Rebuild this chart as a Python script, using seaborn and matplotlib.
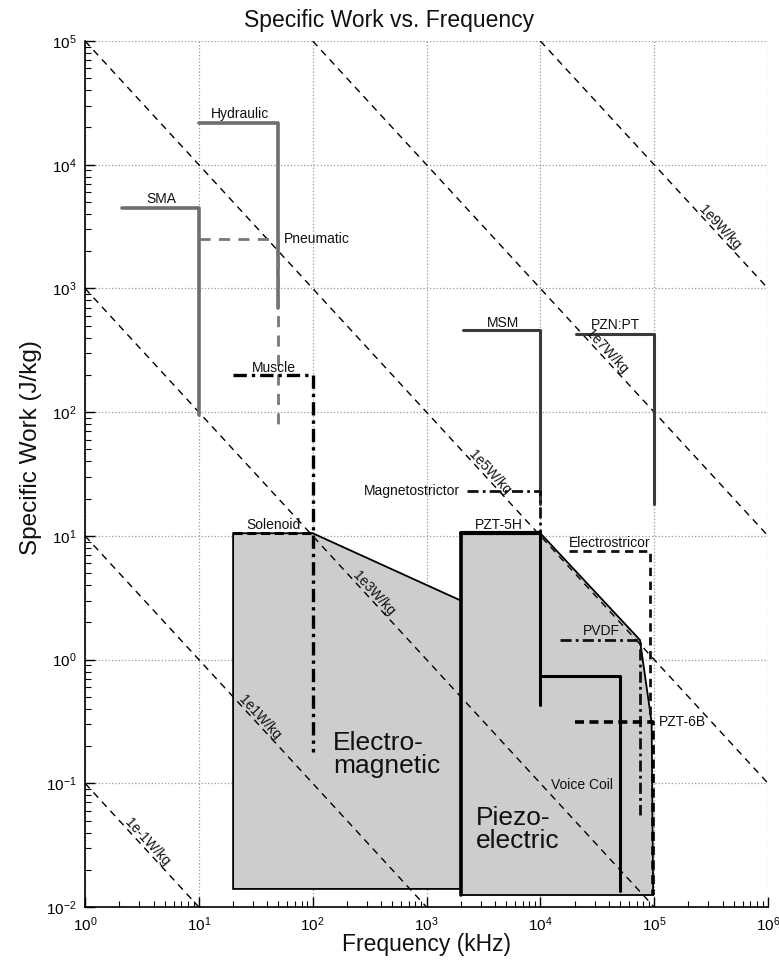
import numpy as np
import matplotlib
matplotlib.use("Agg")
import matplotlib.pyplot as plt
import seaborn as sns

# ---------------- data ----------------
hydraulic_x = [10, 50, 50]
hydraulic_y = [21600, 21600, 700]
sma_x = [2.1, 10, 10]
sma_y = [4500, 4500, 95]
pneumatic_x = [10, 50, 50]
pneumatic_y = [2500, 2500, 75]
muscle_x = [20, 100, 100]
muscle_y = [200, 200, 0.18]
msm_x = [2100, 1e4, 1e4]
msm_y = [460, 460, 18]
pznpt_x = [2.05e4, 1e5, 1e5]
pznpt_y = [430, 430, 18]
magneto_x = [2250, 1e4, 1e4]
magneto_y = [23, 23, 10.5]
solenoid_x = [20, 100]
solenoid_y = [10.5, 10.5]
pzt5h_x = [2000, 1e4]
pzt5h_y = [10.5, 10.5]
electrostr_x = [1.8e4, 9.2e4, 9.2e4]
electrostr_y = [7.6, 7.6, 0.31]
pvdf_x = [1.5e4, 7.5e4, 7.5e4]
pvdf_y = [1.44, 1.44, 0.055]
pzt6b_x = [2e4, 9.8e4, 9.8e4]
pzt6b_y = [0.31, 0.31, 0.0125]
voice_a_x = [1e4, 1e4]
voice_a_y = [10.5, 0.43]
voice_b_x = [1e4, 5e4, 5e4]
voice_b_y = [0.73, 0.73, 0.0135]

em_poly_x = [20, 20, 100, 2000, 2000]
em_poly_y = [0.014, 10.5, 10.5, 3.0, 0.014]
piezo_poly_x = [2000, 2000, 1e4, 7.5e4, 9.5e4, 9.8e4]
piezo_poly_y = [0.0125, 10.5, 10.5, 1.44, 0.31, 0.0125]

power_levels = [1e-1, 1e1, 1e3, 1e5, 1e7, 1e9]
power_labels = ["1e-1W/kg", "1e1W/kg", "1e3W/kg", "1e5W/kg", "1e7W/kg", "1e9W/kg"]
power_label_x = [3.5, 34.5, 342, 3620, 38400, 380000]

text_labels = ["Hydraulic", "SMA", "Pneumatic", "Muscle", "Solenoid", "Magnetostrictor",
               "MSM", "PZN:PT", "PZT-5H", "Electrostricor", "PVDF", "PZT-6B", "Voice Coil"]
text_x = [23, 4.7, 56, 46, 45, 1950, 4690, 45400, 4280, 41000, 34700, 109000, 23200]
text_y = [25500, 5300, 2500, 228, 12.3, 23, 530, 505, 12.3, 8.8, 1.7, 0.31, 0.097]
text_ha = ["center", "center", "left", "center", "center", "right", "center", "center",
           "center", "center", "center", "left", "center"]

big_labels = ["Electro-\nmagnetic", "Piezo-\nelectric"]
big_x = [150, 2700]
big_y = [0.17, 0.042]

x_limits = [1, 1e6]
y_limits = [1e-2, 1e5]

# ---------------- style ----------------
sns.set_theme(style="white")
plt.rcParams["font.family"] = ["Liberation Sans", "DejaVu Sans"]
plt.rcParams["mathtext.fontset"] = "custom"
plt.rcParams["mathtext.rm"] = "Liberation Sans"
plt.rcParams["mathtext.it"] = "Liberation Sans:italic"

W, H = 779, 968
fig = plt.figure(figsize=(W / 100, H / 100), dpi=100)
ax = fig.add_axes([85 / W, 1 - 907 / H, (768 - 85) / W, (907 - 41) / H])
ax.set_xscale("log")
ax.set_yscale("log")
ax.set_xlim(*x_limits)
ax.set_ylim(*y_limits)

# fills
ax.fill(em_poly_x, em_poly_y, facecolor="#cdcdcd", edgecolor="black", lw=1.3, zorder=1)
ax.fill(piezo_poly_x, piezo_poly_y, facecolor="#cdcdcd", edgecolor="black", lw=1.3, zorder=1)


def path(x, y, color, ls, lw, z=3):
    sns.lineplot(x=x, y=y, sort=False, estimator=None, ax=ax, color=color,
                 linestyle=ls, linewidth=lw, zorder=z, legend=False)


# power lines
for C in power_levels:
    xa = max(x_limits[0], C / y_limits[1])
    xb = min(x_limits[1], C / y_limits[0])
    path([xa, xb], [C / xa, C / xb], "black", (0, (5, 4)), 1.0, 2)

path([2000, 2000], [0.0125, 10.5], "black", "-", 2.6, 3)
path(hydraulic_x, hydraulic_y, "#6e6e6e", "-", 2.6)
path(sma_x, sma_y, "#6e6e6e", "-", 2.6)
path(pneumatic_x, pneumatic_y, "#777777", (0, (4, 3)), 2.0)
path(muscle_x, muscle_y, "black", (0, (4, 1.5, 1, 1.5)), 2.4)
path(msm_x, msm_y, "#3a3a3a", "-", 2.2)
path(pznpt_x, pznpt_y, "#3a3a3a", "-", 2.2)
path(magneto_x, magneto_y, "#111111", (0, (4, 1.5, 1, 1.5)), 2.0)
path(solenoid_x, solenoid_y, "black", (0, (3, 1.5)), 2.2)
path(pzt5h_x, pzt5h_y, "black", "-", 3.0)
path(electrostr_x, electrostr_y, "#111111", (0, (3, 2)), 2.0)
path(pvdf_x, pvdf_y, "#111111", (0, (4, 1.5, 1, 1.5)), 2.0)
path(pzt6b_x, pzt6b_y, "black", (0, (2.5, 1.5)), 2.6)
path(voice_a_x, voice_a_y, "black", "-", 2.2)
path(voice_b_x, voice_b_y, "black", "-", 2.2)

# rotation angle for power line labels
bbox = ax.get_position()
dec_x = bbox.width * W / 6
dec_y = bbox.height * H / 7
angle = -np.degrees(np.arctan(dec_y / dec_x))
for C, lab, lx in zip(power_levels, power_labels, power_label_x):
    ax.text(lx, C / lx * 1.18, lab, rotation=angle, rotation_mode="anchor",
            ha="center", va="center", fontsize=10, color="#111111", zorder=4)

for lab, tx, ty, ha in zip(text_labels, text_x, text_y, text_ha):
    ax.text(tx, ty, lab, ha=ha, va="center", fontsize=10, color="#111111", zorder=5)

for lab, tx, ty in zip(big_labels, big_x, big_y):
    ax.text(tx, ty, lab, ha="left", va="center", fontsize=19, linespacing=0.95,
            color="#111111", zorder=5)

# grid & axes
ax.grid(True, which="major", linestyle=":", color="#999999", linewidth=0.9)
for s in ["top", "right"]:
    ax.spines[s].set_visible(False)
for s in ["left", "bottom"]:
    ax.spines[s].set_color("black")
    ax.spines[s].set_linewidth(1.2)
ax.tick_params(which="major", direction="in", length=7, width=1, colors="black",
               labelsize=11, left=True, bottom=True, pad=6)
ax.tick_params(which="minor", direction="in", length=4, width=0.8, colors="black",
               left=True, bottom=True)
ax.xaxis.set_major_locator(matplotlib.ticker.LogLocator(base=10, numticks=10))
ax.yaxis.set_major_locator(matplotlib.ticker.LogLocator(base=10, numticks=10))
ax.xaxis.set_minor_locator(matplotlib.ticker.LogLocator(base=10, subs=np.arange(2, 10), numticks=20))
ax.yaxis.set_minor_locator(matplotlib.ticker.LogLocator(base=10, subs=np.arange(2, 10), numticks=20))

ax.set_title("Specific Work vs. Frequency", fontsize=16.5, pad=10,
             x=(W / 2 - 85) / (768 - 85), color="#111111")
ax.set_xlabel("Frequency (kHz)", fontsize=16.5, color="#111111")
ax.set_ylabel("Specific Work (J/kg)", fontsize=17.5, color="#111111")
ax.xaxis.set_label_coords(0.5, -0.030)
ax.yaxis.set_label_coords(-0.063, 0.53)

fig.savefig("out.png", dpi=100)
